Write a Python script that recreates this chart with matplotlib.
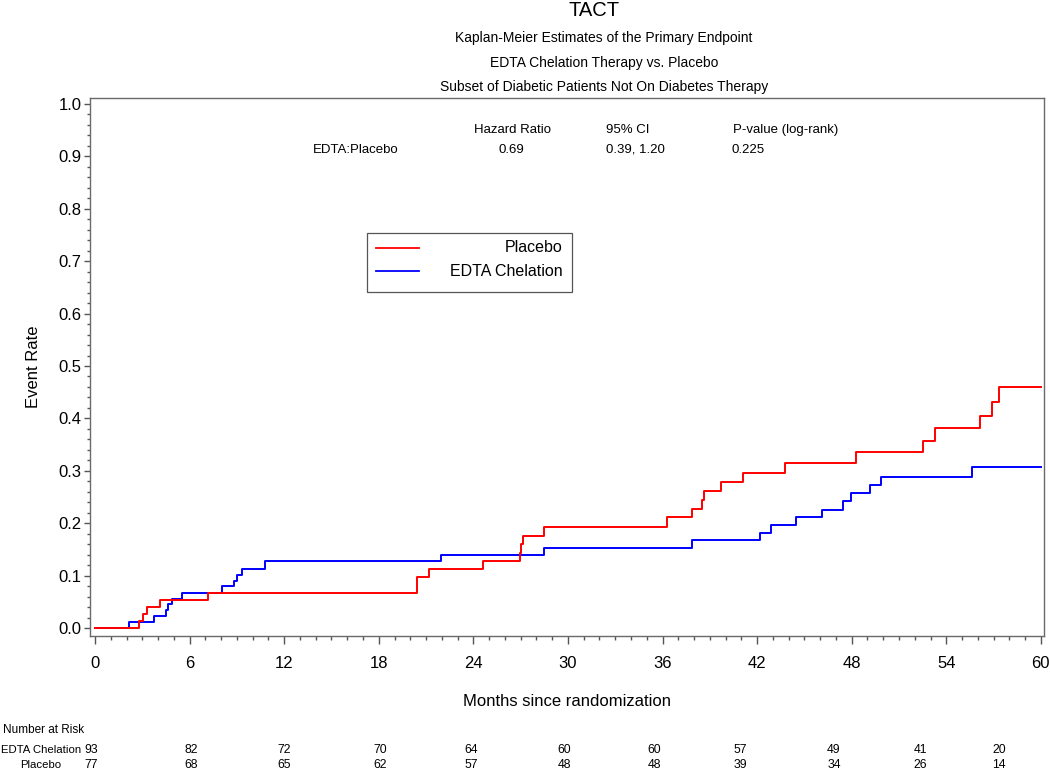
import matplotlib
matplotlib.use("Agg")
import matplotlib.pyplot as plt
from matplotlib.patches import Rectangle
from matplotlib.ticker import MultipleLocator

plt.rcParams['font.family'] = ['Liberation Sans', 'DejaVu Sans']

# --- Kaplan-Meier step data (months, cumulative event rate) ---
placebo_months = [0, 2.77, 3.07, 3.31, 4.15, 7.19, 20.44, 21.18, 24.62, 26.99, 27.05, 27.16,
                  28.47, 36.29, 37.88, 38.49, 38.60, 39.70, 41.13, 43.75, 48.30, 52.50,
                  53.29, 56.12, 56.92, 57.34, 60]
placebo_rate = [0, 0.013, 0.027, 0.040, 0.053, 0.067, 0.097, 0.112, 0.128, 0.144, 0.160, 0.176,
                0.192, 0.211, 0.227, 0.244, 0.261, 0.278, 0.296, 0.314, 0.335, 0.357,
                0.381, 0.405, 0.432, 0.459, 0.459]

edta_months = [0, 2.16, 3.74, 4.48, 4.60, 4.89, 5.52, 8.03, 8.81, 9.00, 9.34, 10.80, 21.96,
               28.51, 37.88, 42.21, 42.91, 44.45, 46.10, 47.45, 47.96, 49.17, 49.87, 55.65, 60]
edta_rate = [0, 0.012, 0.023, 0.034, 0.045, 0.055, 0.067, 0.080, 0.090, 0.101, 0.113, 0.127, 0.139,
             0.153, 0.167, 0.182, 0.196, 0.211, 0.226, 0.242, 0.257, 0.273, 0.289, 0.307, 0.307]

# number at risk table
risk_labels = ["EDTA Chelation", "Placebo"]
risk_edta = [93, 82, 72, 70, 64, 60, 60, 57, 49, 41, 20]
risk_placebo = [77, 68, 65, 62, 57, 48, 48, 39, 34, 26, 14]
risk_x_px = [91, 191, 284, 380, 471, 564, 654, 740, 834, 920, 999]  # where SAS put the columns

# hazard ratio header
hr_headers = ["Hazard Ratio", "95% CI", "P-value (log-rank)"]
hr_values = ["0.69", "0.39, 1.20", "0.225"]
hr_row_label = "EDTA:Placebo"

W, H = 1050, 774
fig = plt.figure(figsize=(W / 100, H / 100), dpi=100)
ax = fig.add_axes([90 / W, 1 - 636 / H, 954 / W, 538.3 / H])

ax.step(edta_months, edta_rate, where='post', color='#0000ff', lw=1.4)
ax.step(placebo_months, placebo_rate, where='post', color='#ff0000', lw=1.4)

ax.set_xlim(-0.32, 60.2)
ax.set_ylim(-0.0153, 1.012)
ax.set_xticks(range(0, 61, 6))
ax.set_yticks([i / 10 for i in range(11)])
ax.set_yticklabels([f"{i / 10:.1f}" for i in range(11)])
ax.xaxis.set_minor_locator(MultipleLocator(1))
ax.yaxis.set_minor_locator(MultipleLocator(0.02))
ax.tick_params(axis='both', which='major', labelsize=12, color='#555555', width=1.0)
ax.tick_params(axis='x', which='major', length=5.5, pad=9)
ax.tick_params(axis='x', which='minor', length=3, color='#555555', width=1.0)
ax.tick_params(axis='y', which='major', length=4, pad=2)
ax.tick_params(axis='y', which='minor', length=2.2, color='#555555', width=1.0)
for sp in ax.spines.values():
    sp.set_color('#6a6a6a')
    sp.set_linewidth(1.0)

ax.set_xlabel("Months since randomization", fontsize=12)
ax.xaxis.set_label_coords(0.5, (636 - 701) / 538.3)
ax.xaxis.label.set_va('center')
ax.set_ylabel("Event Rate", fontsize=12)
ax.yaxis.set_label_coords((33 - 90) / 954, 0.5)
ax.yaxis.label.set_va('center')

# titles
fig.text(594 / W, 1 - 16 / H, "TACT", ha='center', va='baseline', fontsize=14.5)
subtitles = ["Kaplan-Meier Estimates of the Primary Endpoint",
             "EDTA Chelation Therapy vs. Placebo",
             "Subset of Diabetic Patients Not On Diabetes Therapy"]
for txt, yb in zip(subtitles, [41.7, 66.7, 90.7]):
    fig.text(604 / W, 1 - yb / H, txt, ha='center', va='baseline', fontsize=10)

# hazard ratio header inside the plot
def axx(px):
    return (px - 90) / 954

def axy(py):
    return (636 - py) / 538.3

hdr_kw = dict(va='baseline', fontsize=9.5, transform=ax.transAxes)
ax.text(axx(512), axy(133.3), hr_headers[0], ha='center', **hdr_kw)
ax.text(axx(628), axy(133.3), hr_headers[1], ha='center', **hdr_kw)
ax.text(axx(733), axy(133.3), hr_headers[2], ha='left', **hdr_kw)
ax.text(axx(313), axy(152.7), hr_row_label, ha='left', **hdr_kw)
ax.text(axx(511), axy(152.7), hr_values[0], ha='center', **hdr_kw)
ax.text(axx(635), axy(152.7), hr_values[1], ha='center', **hdr_kw)
ax.text(axx(731), axy(152.7), hr_values[2], ha='left', **hdr_kw)

# legend drawn by hand (SAS right-aligns the labels)
ax.add_patch(Rectangle((axx(367), axy(292)), axx(572) - axx(367), axy(233) - axy(292),
                       transform=ax.transAxes, fill=False, edgecolor='#555555', lw=0.9))
for py, col, lab in [(248, '#ff0000', "Placebo"), (271, '#0000ff', "EDTA Chelation")]:
    ax.plot([axx(376), axx(419)], [axy(py), axy(py)], color=col, lw=1.3, transform=ax.transAxes)
    ax.text(axx(563), axy(py), lab, ha='right', va='center', fontsize=11.5, transform=ax.transAxes)

# number at risk
fig.text(3 / W, 1 - 732.7 / H, "Number at Risk", ha='left', va='baseline', fontsize=8.5)
for lab, vals, yb in [(risk_labels[0], risk_edta, 753.3), (risk_labels[1], risk_placebo, 768.3)]:
    fig.text(41 / W, 1 - yb / H, lab, ha='center', va='baseline', fontsize=8.2)
    for px, v in zip(risk_x_px, vals):
        fig.text(px / W, 1 - yb / H, str(v), ha='center', va='baseline', fontsize=8.8)

fig.savefig("out.png", dpi=100)
